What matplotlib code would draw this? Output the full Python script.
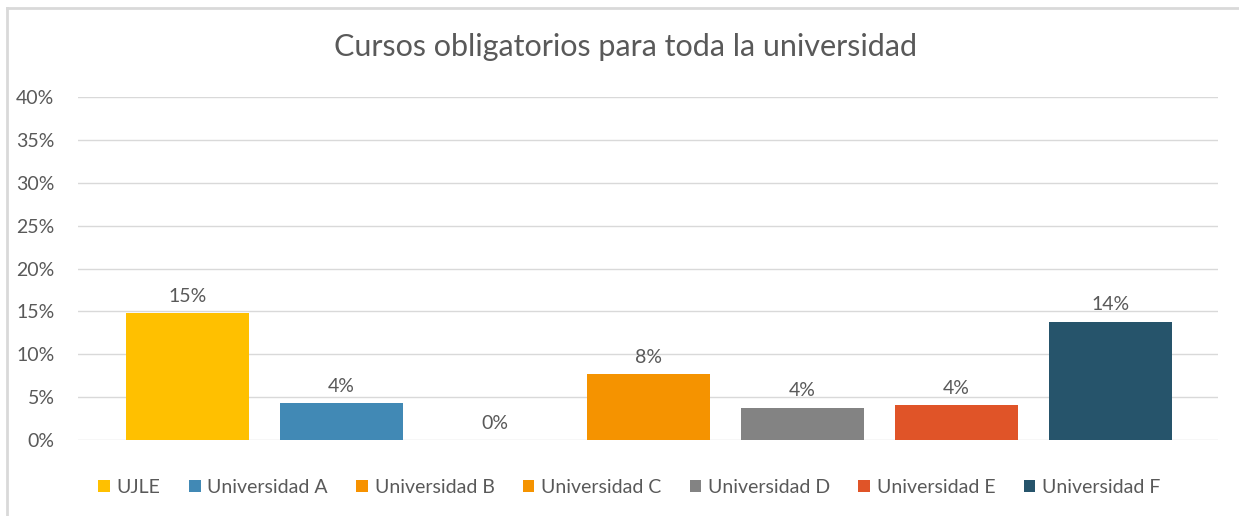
import matplotlib
matplotlib.use("Agg")
import matplotlib.pyplot as plt
from matplotlib.patches import Patch
from matplotlib.lines import Line2D
from matplotlib.ticker import FuncFormatter

# data
universities = ["UJLE", "Universidad A", "Universidad B", "Universidad C",
                "Universidad D", "Universidad E", "Universidad F"]
shares = [0.148, 0.043, 0.0, 0.077, 0.038, 0.041, 0.138]
labels = ["15%", "4%", "0%", "8%", "4%", "4%", "14%"]
colors = ["#FFC000", "#4189B5", "#F79200", "#F59300", "#838383", "#E05428", "#26546B"]

plt.rcParams["font.family"] = ["Lato", "DejaVu Sans"]
TXT = "#595959"
GRID = "#D9D9D9"

fig = plt.figure(figsize=(12.39, 5.16), dpi=100)
ax = fig.add_axes([0.063, 0.147, 0.920, 0.665])

x = list(range(len(universities)))
bars = ax.bar(x, shares, width=0.8, color=colors, zorder=3)
for b, lab in zip(bars, labels):
    ax.annotate(lab, (b.get_x() + b.get_width() / 2, b.get_height()),
                xytext=(0, 6), textcoords="offset points",
                ha="center", va="bottom", fontsize=14, color=TXT)

ax.set_ylim(0, 0.40)
ax.set_xlim(-0.71, 6.70)
ax.set_yticks([i * 0.05 for i in range(9)])
ax.yaxis.set_major_formatter(FuncFormatter(lambda v, _: f"{v*100:.0f}%"))
ax.set_xticks([])
ax.tick_params(axis="y", length=0, labelsize=14, labelcolor=TXT, pad=17)
ax.grid(axis="y", color=GRID, lw=1, zorder=0)
for s in ax.spines.values():
    s.set_visible(False)

fig.text(0.505, 0.909, "Cursos obligatorios para toda la universidad",
         ha="center", va="center", fontsize=22, color=TXT)

handles = [Patch(facecolor=c, edgecolor="none") for c in colors]
fig.legend(handles, universities, loc="center", bbox_to_anchor=(0.508, 0.056),
           ncol=7, frameon=False, fontsize=14, labelcolor=TXT,
           handlelength=0.6, handleheight=0.6, handletextpad=0.35,
           columnspacing=1.45)

# chart frame (top and left edges visible)
fig.add_artist(Line2D([0.0057, 1.0], [0.985, 0.985], color=GRID, lw=2,
                      transform=fig.transFigure))
fig.add_artist(Line2D([0.0057, 0.0057], [0.0, 0.985], color=GRID, lw=2,
                      transform=fig.transFigure))

fig.savefig("out.png", dpi=100, facecolor="white")
